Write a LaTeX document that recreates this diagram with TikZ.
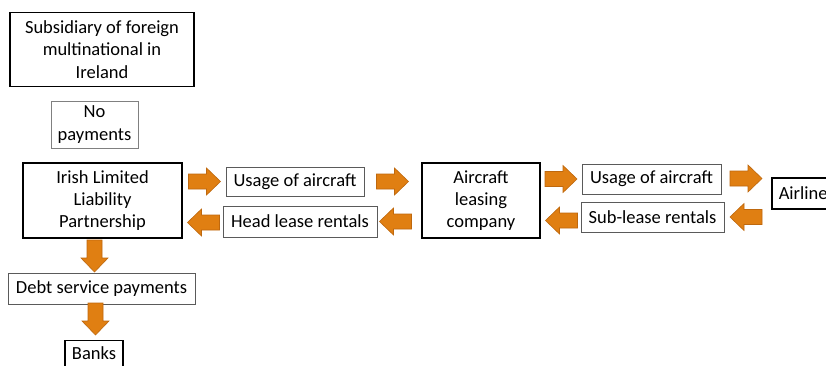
\documentclass[tikz,border=0pt]{standalone}
\usepackage{fontspec}
\setmainfont{Carlito}
\definecolor{arrfill}{RGB}{224,127,18}
\definecolor{arrdraw}{RGB}{190,104,14}
\definecolor{thinline}{RGB}{90,90,90}
\begin{document}
\begin{tikzpicture}[x=1pt,y=-1pt,
  every node/.style={font=\fontsize{18.5pt}{22.3pt}\selectfont, align=center, inner sep=0pt},
  thickbox/.style={draw=black, line width=1.5pt, fill=white},
  thinbox/.style={draw=thinline, line width=0.8pt, fill=white},
  graybox/.style={draw=black!50, line width=0.8pt, fill=white},
  blockarrow/.pic={\filldraw[fill=arrfill, draw=arrdraw, line width=0.6pt, line join=miter]
     (-16,-7.5)--(2,-7.5)--(2,-13.5)--(16,0)--(2,13.5)--(2,7.5)--(-16,7.5)--cycle;}]
\useasboundingbox (0,0) rectangle (826,365);
\clip (0,0) rectangle (826,365);
\fill[white] (0,0) rectangle (826,365);

\node[thickbox, minimum width=184, minimum height=74] (sub) at (102,49.5)
  {Subsidiary of foreign\\multinational in\\Ireland};
\node[graybox, minimum width=87, minimum height=47] (nopay) at (94.5,124.5)
  {No\\payments};
\node[thickbox, minimum width=159, minimum height=75] (llp) at (102.5,200.5)
  {Irish Limited\\Liability\\Partnership};
\node[thinbox, minimum width=138, minimum height=29] (use1) at (295,181.5)
  {Usage of aircraft};
\node[thinbox, minimum width=154, minimum height=31] (head) at (300,221.5)
  {Head lease rentals};
\node[thickbox, minimum width=118, minimum height=75] (alc) at (481,200.5)
  {Aircraft\\leasing\\company};
\node[thinbox, minimum width=139, minimum height=30] (use2) at (651.5,179)
  {Usage of aircraft};
\node[thinbox, minimum width=143, minimum height=30] (sub2) at (652.5,217)
  {Sub-lease rentals};
\node[thickbox, anchor=west, minimum height=31, text width=62, inner xsep=7, align=left] (air) at (771,193.5)
  {Airline};
\node[thinbox, minimum width=187, minimum height=31] (debt) at (101.5,288.5)
  {Debt service payments};
\node[thickbox, anchor=north, minimum width=58, minimum height=34, text depth=9pt] (banks) at (94,339.5)
  {Banks};

\pic (r1) at (204.5,181.5) {blockarrow};
\pic (r2) at (392.5,181.5) {blockarrow};
\pic[rotate=180] (l1) at (203.5,222.5) {blockarrow};
\pic[rotate=180] (l2) at (395.5,221.5) {blockarrow};
\pic (r3) at (561,179) {blockarrow};
\pic[rotate=180] (l3) at (561.5,220.5) {blockarrow};
\pic (r4) at (746,178.5) {blockarrow};
\pic[rotate=180] (l4) at (746,217) {blockarrow};
\pic[rotate=-90] (d1) at (94.5,256) {blockarrow};
\pic[rotate=-90] (d2) at (95.5,319) {blockarrow};
\end{tikzpicture}
\end{document}
